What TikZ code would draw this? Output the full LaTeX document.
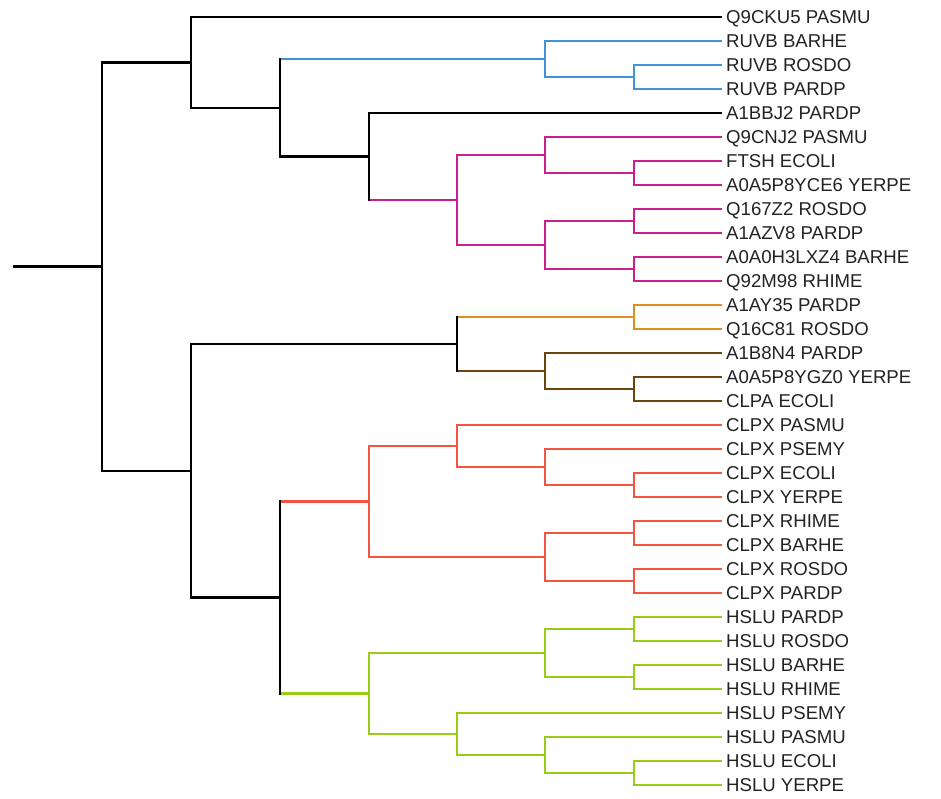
\documentclass[tikz,border=0pt]{standalone}
\usepackage{fontspec}
\setmainfont{Liberation Sans}
\definecolor{color1}{HTML}{4292D6}
\definecolor{color2}{HTML}{CC1F8F}
\definecolor{color3}{HTML}{DE8F1F}
\definecolor{color4}{HTML}{6B4510}
\definecolor{color5}{HTML}{F55442}
\definecolor{color6}{HTML}{99CC14}
\definecolor{labelgray}{HTML}{222222}
\begin{document}
\begin{tikzpicture}[x=1pt,y=-1pt,
  hz/.style={line width=2.4pt},
  vt/.style={line width=2.4pt,line cap=rect},
  leaf/.style={anchor=west,inner xsep=4pt,inner ysep=0pt,text height=13.3pt,text depth=0pt,font=\fontsize{18.6}{20}\selectfont,text=labelgray}]
\useasboundingbox (0,0) rectangle (941,798);
% leaves
\node[leaf] (l1) at (722,17) {Q9CKU5 PASMU}; \node[leaf] (l2) at (722,41) {RUVB BARHE}; \node[leaf] (l3) at (722,65) {RUVB ROSDO};
\node[leaf] (l4) at (722,89) {RUVB PARDP}; \node[leaf] (l5) at (722,113) {A1BBJ2 PARDP}; \node[leaf] (l6) at (722,137) {Q9CNJ2 PASMU};
\node[leaf] (l7) at (722,161) {FTSH ECOLI}; \node[leaf] (l8) at (722,185) {A0A5P8YCE6 YERPE}; \node[leaf] (l9) at (722,209) {Q167Z2 ROSDO};
\node[leaf] (l10) at (722,233) {A1AZV8 PARDP}; \node[leaf] (l11) at (722,257) {A0A0H3LXZ4 BARHE}; \node[leaf] (l12) at (722,281) {Q92M98 RHIME};
\node[leaf] (l13) at (722,305) {A1AY35 PARDP}; \node[leaf] (l14) at (722,329) {Q16C81 ROSDO}; \node[leaf] (l15) at (722,353) {A1B8N4 PARDP};
\node[leaf] (l16) at (722,377) {A0A5P8YGZ0 YERPE}; \node[leaf] (l17) at (722,401) {CLPA ECOLI}; \node[leaf] (l18) at (722,425) {CLPX PASMU};
\node[leaf] (l19) at (722,449) {CLPX PSEMY}; \node[leaf] (l20) at (722,473) {CLPX ECOLI}; \node[leaf] (l21) at (722,497) {CLPX YERPE};
\node[leaf] (l22) at (722,521) {CLPX RHIME}; \node[leaf] (l23) at (722,545) {CLPX BARHE}; \node[leaf] (l24) at (722,569) {CLPX ROSDO};
\node[leaf] (l25) at (722,593) {CLPX PARDP}; \node[leaf] (l26) at (722,617) {HSLU PARDP}; \node[leaf] (l27) at (722,641) {HSLU ROSDO};
\node[leaf] (l28) at (722,665) {HSLU BARHE}; \node[leaf] (l29) at (722,689) {HSLU RHIME}; \node[leaf] (l30) at (722,713) {HSLU PSEMY};
\node[leaf] (l31) at (722,737) {HSLU PASMU}; \node[leaf] (l32) at (722,761) {HSLU ECOLI}; \node[leaf] (l33) at (722,785) {HSLU YERPE};
% inner nodes
\coordinate (ruvbA) at (634,77); \coordinate (ruvb) at (545,59);
\coordinate (ftshA) at (634,173); \coordinate (ftshB) at (545,155); \coordinate (ftshC) at (634,221); \coordinate (ftshD) at (634,269);
\coordinate (ftshE) at (545,245); \coordinate (ftsh) at (457,200); \coordinate (aaa) at (369,156.5);
\coordinate (top2) at (280,107.75); \coordinate (top) at (191,62.4);
\coordinate (clpaA) at (634,317); \coordinate (clpaB) at (634,389); \coordinate (clpaC) at (545,371); \coordinate (clpa) at (457,344);
\coordinate (clpxA) at (634,485); \coordinate (clpxB) at (545,467); \coordinate (clpxC) at (457,446);
\coordinate (clpxD) at (634,533); \coordinate (clpxE) at (634,581); \coordinate (clpxF) at (545,557); \coordinate (clpx) at (369,501.5);
\coordinate (hsluA) at (634,629); \coordinate (hsluB) at (634,677); \coordinate (hsluC) at (545,653);
\coordinate (hsluD) at (634,773); \coordinate (hsluE) at (545,755); \coordinate (hsluF) at (457,734); \coordinate (hslu) at (369,693.5);
\coordinate (bot2) at (280,597.5); \coordinate (bot) at (191,470.75);
\coordinate (root) at (102,266.6); \coordinate (stub) at (13,266.6);
% ruvb clade
\draw[hz,color1] (ruvbA |- l3.west) -- (l3.west); \draw[hz,color1] (ruvbA |- l4.west) -- (l4.west); \draw[vt,color1] (ruvbA |- l3.west) -- (ruvbA |- l4.west);
\draw[hz,color1] (ruvb |- l2.west) -- (l2.west); \draw[hz,color1] (ruvb |- ruvbA) -- (ruvbA); \draw[vt,color1] (ruvb |- l2.west) -- (ruvb |- ruvbA);
% ftsh clade
\draw[hz,color2] (ftshA |- l7.west) -- (l7.west); \draw[hz,color2] (ftshA |- l8.west) -- (l8.west); \draw[vt,color2] (ftshA |- l7.west) -- (ftshA |- l8.west);
\draw[hz,color2] (ftshB |- l6.west) -- (l6.west); \draw[hz,color2] (ftshB |- ftshA) -- (ftshA); \draw[vt,color2] (ftshB |- l6.west) -- (ftshB |- ftshA);
\draw[hz,color2] (ftshC |- l9.west) -- (l9.west); \draw[hz,color2] (ftshC |- l10.west) -- (l10.west); \draw[vt,color2] (ftshC |- l9.west) -- (ftshC |- l10.west);
\draw[hz,color2] (ftshD |- l11.west) -- (l11.west); \draw[hz,color2] (ftshD |- l12.west) -- (l12.west); \draw[vt,color2] (ftshD |- l11.west) -- (ftshD |- l12.west);
\draw[hz,color2] (ftshE |- ftshC) -- (ftshC); \draw[hz,color2] (ftshE |- ftshD) -- (ftshD); \draw[vt,color2] (ftshE |- ftshC) -- (ftshE |- ftshD);
\draw[hz,color2] (ftsh |- ftshB) -- (ftshB); \draw[hz,color2] (ftsh |- ftshE) -- (ftshE); \draw[vt,color2] (ftsh |- ftshB) -- (ftsh |- ftshE);
% upper half
\draw[hz] (aaa |- l5.west) -- (l5.west); \draw[hz,color2] (aaa |- ftsh) -- (ftsh); \draw[vt] (aaa |- l5.west) -- (aaa |- ftsh);
\draw[hz,color1] (top2 |- ruvb) -- (ruvb); \draw[hz] (top2 |- aaa) -- (aaa); \draw[vt] (top2 |- ruvb) -- (top2 |- aaa);
\draw[hz] (top |- l1.west) -- (l1.west); \draw[hz] (top |- top2) -- (top2); \draw[vt] (top |- l1.west) -- (top |- top2);
% clpa clade
\draw[hz,color3] (clpaA |- l13.west) -- (l13.west); \draw[hz,color3] (clpaA |- l14.west) -- (l14.west); \draw[vt,color3] (clpaA |- l13.west) -- (clpaA |- l14.west);
\draw[hz,color4] (clpaB |- l16.west) -- (l16.west); \draw[hz,color4] (clpaB |- l17.west) -- (l17.west); \draw[vt,color4] (clpaB |- l16.west) -- (clpaB |- l17.west);
\draw[hz,color4] (clpaC |- l15.west) -- (l15.west); \draw[hz,color4] (clpaC |- clpaB) -- (clpaB); \draw[vt,color4] (clpaC |- l15.west) -- (clpaC |- clpaB);
\draw[hz,color3] (clpa |- clpaA) -- (clpaA); \draw[hz,color4] (clpa |- clpaC) -- (clpaC); \draw[vt] (clpa |- clpaA) -- (clpa |- clpaC);
% clpx clade
\draw[hz,color5] (clpxA |- l20.west) -- (l20.west); \draw[hz,color5] (clpxA |- l21.west) -- (l21.west); \draw[vt,color5] (clpxA |- l20.west) -- (clpxA |- l21.west);
\draw[hz,color5] (clpxB |- l19.west) -- (l19.west); \draw[hz,color5] (clpxB |- clpxA) -- (clpxA); \draw[vt,color5] (clpxB |- l19.west) -- (clpxB |- clpxA);
\draw[hz,color5] (clpxC |- l18.west) -- (l18.west); \draw[hz,color5] (clpxC |- clpxB) -- (clpxB); \draw[vt,color5] (clpxC |- l18.west) -- (clpxC |- clpxB);
\draw[hz,color5] (clpxD |- l22.west) -- (l22.west); \draw[hz,color5] (clpxD |- l23.west) -- (l23.west); \draw[vt,color5] (clpxD |- l22.west) -- (clpxD |- l23.west);
\draw[hz,color5] (clpxE |- l24.west) -- (l24.west); \draw[hz,color5] (clpxE |- l25.west) -- (l25.west); \draw[vt,color5] (clpxE |- l24.west) -- (clpxE |- l25.west);
\draw[hz,color5] (clpxF |- clpxD) -- (clpxD); \draw[hz,color5] (clpxF |- clpxE) -- (clpxE); \draw[vt,color5] (clpxF |- clpxD) -- (clpxF |- clpxE);
\draw[hz,color5] (clpx |- clpxC) -- (clpxC); \draw[hz,color5] (clpx |- clpxF) -- (clpxF); \draw[vt,color5] (clpx |- clpxC) -- (clpx |- clpxF);
% hslu clade
\draw[hz,color6] (hsluA |- l26.west) -- (l26.west); \draw[hz,color6] (hsluA |- l27.west) -- (l27.west); \draw[vt,color6] (hsluA |- l26.west) -- (hsluA |- l27.west);
\draw[hz,color6] (hsluB |- l28.west) -- (l28.west); \draw[hz,color6] (hsluB |- l29.west) -- (l29.west); \draw[vt,color6] (hsluB |- l28.west) -- (hsluB |- l29.west);
\draw[hz,color6] (hsluC |- hsluA) -- (hsluA); \draw[hz,color6] (hsluC |- hsluB) -- (hsluB); \draw[vt,color6] (hsluC |- hsluA) -- (hsluC |- hsluB);
\draw[hz,color6] (hsluD |- l32.west) -- (l32.west); \draw[hz,color6] (hsluD |- l33.west) -- (l33.west); \draw[vt,color6] (hsluD |- l32.west) -- (hsluD |- l33.west);
\draw[hz,color6] (hsluE |- l31.west) -- (l31.west); \draw[hz,color6] (hsluE |- hsluD) -- (hsluD); \draw[vt,color6] (hsluE |- l31.west) -- (hsluE |- hsluD);
\draw[hz,color6] (hsluF |- l30.west) -- (l30.west); \draw[hz,color6] (hsluF |- hsluE) -- (hsluE); \draw[vt,color6] (hsluF |- l30.west) -- (hsluF |- hsluE);
\draw[hz,color6] (hslu |- hsluC) -- (hsluC); \draw[hz,color6] (hslu |- hsluF) -- (hsluF); \draw[vt,color6] (hslu |- hsluC) -- (hslu |- hsluF);
% lower half and root
\draw[hz,color5] (bot2 |- clpx) -- (clpx); \draw[hz,color6] (bot2 |- hslu) -- (hslu); \draw[vt] (bot2 |- clpx) -- (bot2 |- hslu);
\draw[hz] (bot |- clpa) -- (clpa); \draw[hz] (bot |- bot2) -- (bot2); \draw[vt] (bot |- clpa) -- (bot |- bot2);
\draw[hz] (root |- top) -- (top); \draw[hz] (root |- bot) -- (bot); \draw[vt] (root |- top) -- (root |- bot);
\draw[hz] (stub) -- (root);
\end{tikzpicture}
\end{document}
